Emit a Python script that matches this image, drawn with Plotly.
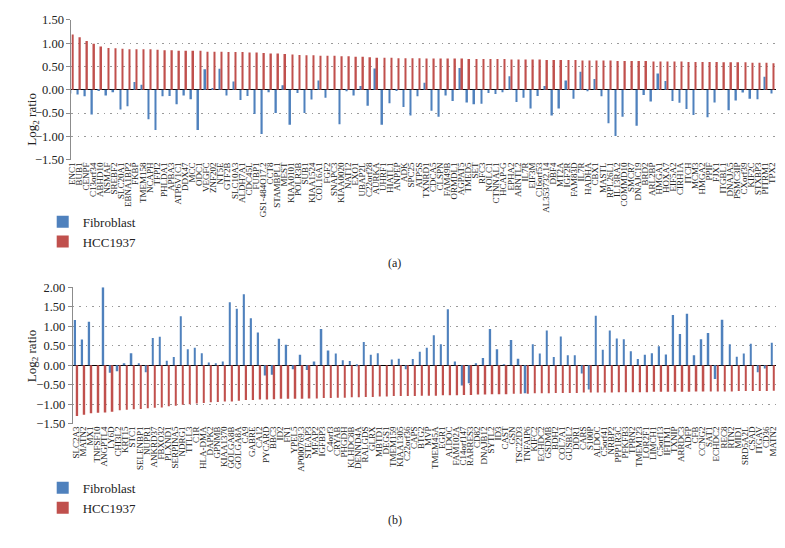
import plotly.graph_objects as go

# ─────────────────────────────────────────────────────────────────────────────
# Panel (a): genes up in HCC1937
genes_a = ['ENC1', 'BUB1', 'CENPF', 'C13orf34', 'ABHD10', 'NSMAF', 'SREBF2', 'SLC20A1',
           'EBNA1BP2', 'FKBP', 'TMEM158', 'NCAPH', 'TFPI2', 'PHLDA1', 'APBA3', 'ATP6V1C1',
           'DDX47', 'MCC', 'ODC1', 'VEGFC', 'ZNF202', 'NT5E', 'GTF2B', 'SLC10A3', 'ALDH7A1',
           'CDC45L', 'FUBP1', 'GS1-484O17.2', 'CCT8', 'STAMBPL1', 'MEST', 'KIAA0101', 'POLR3B',
           'SUB1', 'KIAA1524', 'COL16A1', 'FGF2', 'SNAPC3', 'KIAA0020', 'NAT12', 'EXO1',
           'UBAP2L', 'C22orf28', 'AURKA', 'UHRF1', 'HIATL1', 'ANPEP', 'ADK', 'SPC25', 'ATP5S',
           'TXNRD1', 'CDCA5', 'CLSPN', 'FAM49B', 'ORMDL1', 'AGPAT5', 'TMED5', 'SET', 'RFC3',
           'NOLC1', 'CTNNAL1', 'HCAP-G', 'EPHA2', 'ARNTL2', 'IL7R', 'EIF3M', 'C16orf53',
           'AL353732.14', 'DBF4', 'MT2A', 'IGF2R', 'FAM83D', 'IL7R', 'HADHA', 'CBX1', 'MASTL',
           'RPL26L1', 'IL13RA2', 'COMMD10', 'SMCR7', 'DNAJC19', 'BRD2', 'ARL2BP', 'HMGA1',
           'HOXA7', 'EIF5A2', 'CIRH1A', 'ITCH', 'MCM3', 'HMGA2', 'PPIF', 'FJX1', 'ITGBL1',
           'DNAJA5', 'PSMC3IP', 'CXorf39', 'KIF2C', 'STXBP3', 'PITRM1', 'TPX2']

fibro_a = [-0.08, -0.10, -0.14, -0.53, -0.02, -0.12, -0.05, -0.42, -0.35, 0.17,
           0.11, -0.63, -0.86, -0.14, -0.13, -0.31, -0.12, -0.20, -0.86, 0.44,
           0.03, 0.45, -0.12, 0.18, -0.22, -0.13, -0.52, -0.95, -0.05, -0.50,
           0.10, -0.75, -0.07, -0.50, -0.21, 0.20, -0.17, 0.00, -0.74, -0.03,
           -0.12, 0.08, -0.34, 0.46, -0.75, -0.29, -0.02, -0.37, -0.55, -0.14,
           0.15, -0.45, -0.58, -0.12, -0.24, 0.47, -0.27, -0.31, -0.30, -0.07,
           -0.09, -0.05, 0.29, -0.26, -0.17, -0.40, -0.13, 0.08, -0.55, -0.40,
           0.20, -0.19, 0.39, -0.03, 0.23, -0.14, -0.72, -0.99, -0.58, 0.00,
           -0.77, -0.11, -0.25, 0.35, 0.19, -0.24, -0.28, -0.41, -0.54, 0.00,
           -0.59, -0.27, 0.00, -0.44, -0.23, -0.06, -0.19, -0.20, 0.28, -0.08]

hcc_a = [1.19, 1.13, 1.05, 0.99, 0.93, 0.90, 0.89, 0.88, 0.87, 0.87,
         0.87, 0.87, 0.86, 0.85, 0.85, 0.84, 0.84, 0.84, 0.84, 0.82,
         0.82, 0.82, 0.81, 0.81, 0.81, 0.80, 0.80, 0.79, 0.78, 0.78,
         0.77, 0.76, 0.75, 0.74, 0.74, 0.73, 0.73, 0.73, 0.72, 0.72,
         0.71, 0.71, 0.70, 0.69, 0.69, 0.69, 0.68, 0.68, 0.68, 0.68,
         0.67, 0.67, 0.67, 0.67, 0.67, 0.67, 0.66, 0.66, 0.66, 0.66,
         0.66, 0.66, 0.65, 0.65, 0.65, 0.65, 0.65, 0.64, 0.64, 0.64,
         0.64, 0.64, 0.63, 0.63, 0.63, 0.63, 0.63, 0.62, 0.62, 0.62,
         0.62, 0.62, 0.61, 0.61, 0.61, 0.61, 0.61, 0.60, 0.60, 0.60,
         0.60, 0.60, 0.59, 0.59, 0.59, 0.59, 0.58, 0.58, 0.58, 0.57]

# Panel (b): genes down in HCC1937
genes_b = ['SLC2A3', 'MATN2', 'MX1', 'TNFSF10', 'ANGPTL4', 'LY6D', 'CHI3L2', 'KRT15', 'STC1',
           'SELENBP1', 'NUPR1', 'ANKRD37', 'FBXO32', 'PLXND1', 'SERPINA5', 'NDRG1', 'TTLL3',
           'C1R', 'HLA-DMA', 'DAPK2', 'GPNMB', 'KIAA1370', 'GOLGA8B', 'GOLGA8A', 'CA9', 'GABRE',
           'CA12', 'PYCARD', 'BBC3', 'ID2', 'FN1', 'YPEL5', 'AP000769.3', 'STEAP3', 'MFAP2',
           'IGFBP3', 'C4orf3', 'CRYAB', 'PHGDH', 'KLHDC8B', 'DENND4A', 'RALGDS', 'GLRX', 'MBTD1',
           'DEGS1', 'TMEM159', 'KIAA1305', 'C22orf36', 'CAPS', 'BTG2', 'MVP', 'TMEM45A', 'EGR1',
           'ALDOC', 'FAM102A', 'C14orf147', 'RARRES3', 'CD82', 'DNAJB12', 'SYTL2', 'ID3', 'CAST',
           'GSN', 'TSC22D3', 'TNFAIP6', 'KIFC2', 'ECHDC2', 'GSDMB', 'BDH2', 'COL7A1', 'GUSBL2',
           'DDR1', 'CARS', 'S100P', 'ALDOC', 'C5orf41', 'NRBP2', 'PPP1R3C', 'PFKFB3', 'TPRN2',
           'TMEM123', 'LOR2F1', 'LIMCH1', 'C5orf13', 'IFITM1', 'TXNIP', 'ARRDC3', 'ADFP', 'CFB',
           'CCNG2', 'SAT1', 'ECHDC2', 'REC8', 'RTN2', 'MID1', 'SRD5A2L', 'CSAD', 'ITGAV', 'CD36',
           'MATN2']

fibro_b = [1.16, 0.66, 1.12, 0.00, 2.00, -0.19, -0.15, 0.04, 0.31, 0.03,
           -0.18, 0.70, 0.73, 0.12, 0.21, 1.26, 0.41, 0.45, 0.31, 0.07,
           0.05, 0.10, 1.62, 1.45, 1.82, 1.21, 0.84, -0.26, -0.24, 0.68,
           0.53, -0.10, 0.27, -0.12, 0.10, 0.93, 0.38, 0.30, 0.13, 0.11,
           -0.02, 0.60, 0.27, 0.31, 0.00, 0.15, 0.17, -0.10, 0.16, 0.35,
           0.45, 0.77, 0.54, 1.44, 0.10, -0.52, -0.46, 0.04, 0.19, 0.93,
           0.41, 0.02, 0.65, 0.17, -0.72, 0.54, 0.30, 0.89, 0.21, 0.74,
           0.26, 0.26, -0.21, -0.62, 1.27, 0.40, 0.89, 0.69, 0.67, 0.36,
           0.16, 0.27, 0.31, 0.49, 0.28, 1.29, 0.80, 1.32, 0.26, 0.67,
           0.83, -0.35, 1.17, 0.54, 0.22, 0.30, 0.55, -0.18, -0.08, 0.58]

hcc_b = [-1.30, -1.27, -1.23, -1.22, -1.21, -1.19, -1.15, -1.14, -1.13, -1.12,
         -1.10, -1.09, -1.08, -1.05, -1.04, -1.01, -1.00, -0.98, -0.97, -0.95,
         -0.94, -0.93, -0.93, -0.91, -0.89, -0.89, -0.88, -0.88, -0.87, -0.86,
         -0.86, -0.86, -0.86, -0.85, -0.85, -0.84, -0.84, -0.83, -0.83, -0.82,
         -0.82, -0.81, -0.81, -0.80, -0.80, -0.79, -0.79, -0.79, -0.79, -0.78,
         -0.78, -0.78, -0.77, -0.77, -0.77, -0.76, -0.76, -0.75, -0.75, -0.74,
         -0.74, -0.74, -0.73, -0.73, -0.73, -0.72, -0.72, -0.72, -0.71, -0.71,
         -0.71, -0.71, -0.70, -0.70, -0.70, -0.70, -0.70, -0.69, -0.69, -0.69,
         -0.69, -0.69, -0.68, -0.68, -0.68, -0.68, -0.68, -0.68, -0.67, -0.67,
         -0.67, -0.67, -0.67, -0.67, -0.66, -0.66, -0.66, -0.66, -0.66, -0.65]

# ─────────────────────────────────────────────────────────────────────────────
W, H = 785, 548
BLUE, RED = '#4F81BD', '#C0504D'
SERIF = 'Liberation Serif, Times New Roman, serif'

def px(x):  # pixel -> paper x
    return x / W

def py(y):  # pixel -> paper y
    return 1 - y / H

fig = go.Figure()

# 1) bars, blue left / red right inside each category
panels = [(genes_a, fibro_a, hcc_a, '', 'legend'),
          (genes_b, fibro_b, hcc_b, '2', 'legend2')]
for genes, fib, hcc, ax, lg in panels:
    pos = list(range(len(genes)))
    fig.add_trace(go.Bar(x=pos, y=fib, name='Fibroblast', marker_color=BLUE,
                         marker_line_width=0, width=0.22, offset=-0.26,
                         xaxis='x' + ax, yaxis='y' + ax, legend=lg))
    fig.add_trace(go.Bar(x=pos, y=hcc, name='HCC1937', marker_color=RED,
                         marker_line_width=0, width=0.22, offset=0.04,
                         xaxis='x' + ax, yaxis='y' + ax, legend=lg))

# 2) axes
xcommon = dict(tickmode='array', tickangle=-90, showgrid=False, zeroline=False,
               showline=False, ticks='', ticklabeloverflow='allow',
               tickfont=dict(family=SERIF, size=9, color='#222'))
ycommon = dict(showgrid=True, griddash='1.5px,5px', gridcolor='#9a9a9a', gridwidth=1,
               zeroline=True, zerolinecolor='#000', zerolinewidth=1.3,
               showline=True, linecolor='#8c8c8c', ticks='outside', ticklen=4,
               tickcolor='#8c8c8c', dtick=0.5, tickformat='.2f',
               tickfont=dict(family=SERIF, size=12.5, color='#222'))

def leg(ytop):
    return dict(x=px(38), y=py(ytop), xanchor='left', yanchor='top',
                font=dict(family=SERIF, size=13), bgcolor='rgba(0,0,0,0)',
                itemwidth=30, tracegroupgap=0)

fig.update_layout(
    xaxis=dict(xcommon, domain=[px(67), px(777)], range=[-0.05, 99.5], anchor='y',
               tickvals=list(range(len(genes_a))), ticktext=genes_a),
    yaxis=dict(ycommon, domain=[py(156.7), py(13.3)], range=[-1.5, 1.5], anchor='x'),
    xaxis2=dict(xcommon, domain=[px(68.3), px(777.3)], range=[-0.5, 99.5], anchor='y2',
                tickvals=list(range(len(genes_b))), ticktext=genes_b),
    yaxis2=dict(ycommon, domain=[py(427.7), py(287.7)], range=[-1.5, 2.0], anchor='x2'),
    barmode='overlay',
    width=W, height=H,
    margin=dict(l=0, r=0, t=0, b=0),
    plot_bgcolor='white', paper_bgcolor='white',
    font=dict(family=SERIF, color='#222'),
    legend=leg(205), legend2=leg(478),
)

# 3) y titles and panel letters
for yc in [86, 358]:
    fig.add_annotation(text='Log<sub>2</sub> ratio', x=px(17), y=py(yc), xref='paper', yref='paper',
                       textangle=-90, showarrow=False, font=dict(family=SERIF, size=13))
for txt, yc in [('(a)', 263), ('(b)', 536)]:
    fig.add_annotation(text=txt, x=px(393), y=py(yc), xref='paper', yref='paper',
                       showarrow=False, font=dict(family=SERIF, size=12))

fig.write_html("out.html", config={'displayModeBar': False},
               post_script="document.body.style.margin='0';")
